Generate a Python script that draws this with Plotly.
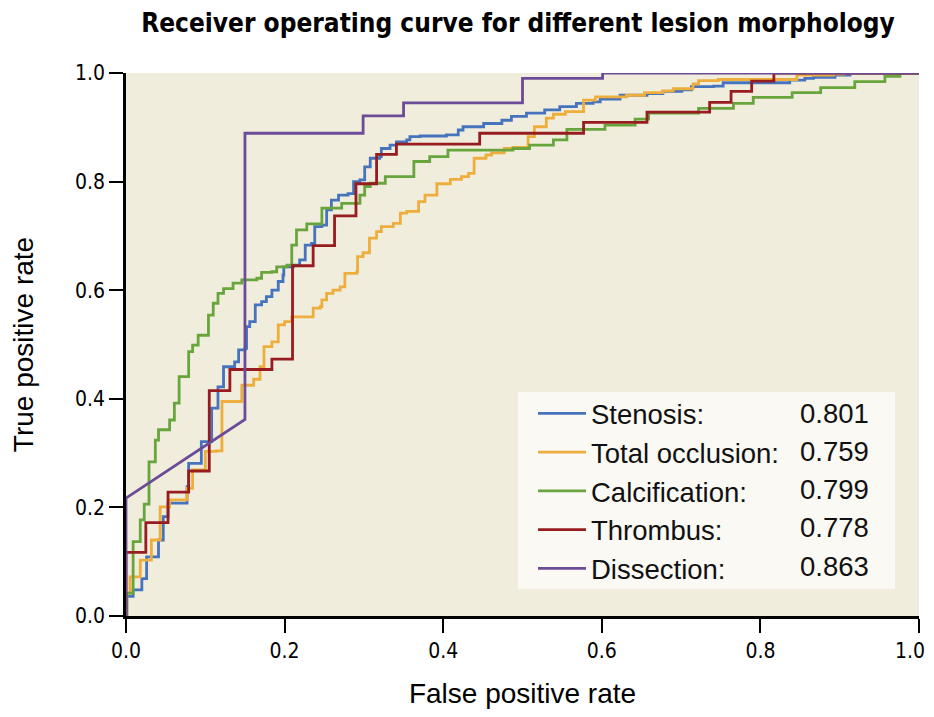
import plotly.graph_objects as go

# ---------------- data ----------------
series_names = ["Stenosis:", "Total occlusion:", "Calcification:", "Thrombus:", "Dissection:"]
auc_values = ["0.801", "0.759", "0.799", "0.778", "0.863"]
colors = ["#4673BD", "#EEAE3D", "#68A53D", "#961C1F", "#6C4B97"]

stenosis_fpr = [0, 0.001, 0.009, 0.020, 0.026, 0.041, 0.047, 0.053, 0.077, 0.079, 0.095, 0.095, 0.104, 0.108, 0.108,
                0.116, 0.116, 0.123, 0.123, 0.137, 0.137, 0.142, 0.142, 0.150, 0.152, 0.156, 0.163, 0.163, 0.171,
                0.177, 0.184, 0.192, 0.198, 0.199, 0.211, 0.219, 0.226, 0.226, 0.234, 0.238, 0.247, 0.253, 0.259,
                0.268, 0.280, 0.287, 0.295, 0.301, 0.308, 0.320, 0.322, 0.333, 0.341, 0.354, 0.358, 0.371, 0.404,
                0.419, 0.425, 0.451, 0.474, 0.486, 0.505, 0.528, 0.547, 0.568, 0.589, 0.598, 0.623, 0.657, 0.677,
                0.701, 0.713, 0.741, 0.753, 0.776, 0.837, 0.856, 0.867, 0.894, 0.913, 1.0]
stenosis_tpr = [0, 0.036, 0.048, 0.069, 0.109, 0.140, 0.183, 0.208, 0.238, 0.281, 0.297, 0.321, 0.321, 0.367, 0.383,
                0.389, 0.422, 0.429, 0.459, 0.459, 0.468, 0.468, 0.490, 0.493, 0.533, 0.542, 0.548, 0.573, 0.579,
                0.588, 0.600, 0.616, 0.628, 0.643, 0.646, 0.656, 0.659, 0.683, 0.686, 0.717, 0.720, 0.748, 0.766,
                0.775, 0.778, 0.800, 0.803, 0.827, 0.843, 0.846, 0.861, 0.867, 0.873, 0.877, 0.883, 0.884, 0.886,
                0.895, 0.901, 0.907, 0.913, 0.920, 0.926, 0.932, 0.938, 0.944, 0.947, 0.952, 0.959, 0.962, 0.966,
                0.969, 0.975, 0.976, 0.982, 0.982, 0.987, 0.990, 0.992, 0.996, 1.0, 1.0]

occlusion_fpr = [0, 0.001, 0.005, 0.018, 0.032, 0.043, 0.055, 0.077, 0.084, 0.084, 0.100, 0.100, 0.114, 0.121, 0.121,
                 0.146, 0.146, 0.161, 0.161, 0.169, 0.169, 0.174, 0.174, 0.184, 0.192, 0.192, 0.200, 0.209, 0.230,
                 0.236, 0.245, 0.247, 0.253, 0.261, 0.270, 0.276, 0.291, 0.292, 0.299, 0.307, 0.316, 0.322, 0.337,
                 0.346, 0.354, 0.369, 0.377, 0.392, 0.409, 0.423, 0.432, 0.439, 0.454, 0.461, 0.477, 0.488, 0.507,
                 0.507, 0.515, 0.530, 0.539, 0.554, 0.577, 0.592, 0.631, 0.654, 0.677, 0.690, 0.715, 0.722, 0.747,
                 0.846, 0.892, 0.905, 1.0]
occlusion_tpr = [0, 0.042, 0.072, 0.103, 0.140, 0.201, 0.214, 0.235, 0.241, 0.269, 0.281, 0.303, 0.304, 0.318, 0.395,
                 0.401, 0.425, 0.425, 0.436, 0.436, 0.459, 0.459, 0.496, 0.505, 0.514, 0.536, 0.542, 0.551, 0.551,
                 0.567, 0.570, 0.582, 0.594, 0.600, 0.606, 0.631, 0.634, 0.662, 0.669, 0.696, 0.708, 0.717, 0.723,
                 0.742, 0.745, 0.763, 0.775, 0.796, 0.804, 0.809, 0.815, 0.843, 0.849, 0.853, 0.861, 0.863, 0.867,
                 0.883, 0.901, 0.917, 0.924, 0.929, 0.950, 0.956, 0.959, 0.964, 0.967, 0.971, 0.980, 0.986, 0.988,
                 0.996, 0.998, 1.0, 1.0]

calcification_fpr = [0, 0.001, 0.009, 0.009, 0.018, 0.023, 0.029, 0.037, 0.041, 0.055, 0.061, 0.067, 0.079, 0.079,
                     0.084, 0.091, 0.104, 0.110, 0.116, 0.123, 0.135, 0.146, 0.165, 0.171, 0.184, 0.190, 0.203, 0.209,
                     0.215, 0.228, 0.247, 0.272, 0.295, 0.301, 0.308, 0.327, 0.363, 0.383, 0.406, 0.488, 0.509, 0.539,
                     0.556, 0.604, 0.642, 0.659, 0.722, 0.766, 0.791, 0.840, 0.876, 0.919, 0.957, 0.976, 1.0]
calcification_tpr = [0, 0.042, 0.097, 0.137, 0.177, 0.206, 0.284, 0.324, 0.343, 0.361, 0.392, 0.441, 0.456, 0.487,
                     0.499, 0.517, 0.554, 0.576, 0.594, 0.603, 0.613, 0.619, 0.622, 0.633, 0.634, 0.643, 0.646, 0.683,
                     0.711, 0.722, 0.751, 0.760, 0.775, 0.791, 0.797, 0.809, 0.837, 0.846, 0.858, 0.861, 0.867, 0.877,
                     0.896, 0.904, 0.915, 0.926, 0.935, 0.944, 0.955, 0.964, 0.973, 0.984, 0.994, 1.0, 1.0]

thrombus_fpr = [0, 0, 0.025, 0.053, 0.079, 0.105, 0.131, 0.184, 0.210, 0.236, 0.263, 0.290, 0.316, 0.341, 0.446,
                0.577, 0.657, 0.736, 0.763, 0.789, 0.817, 1.0]
thrombus_tpr = [0, 0.117, 0.172, 0.228, 0.267, 0.415, 0.454, 0.473, 0.645, 0.682, 0.737, 0.796, 0.850, 0.869, 0.889,
                0.909, 0.928, 0.946, 0.966, 0.985, 1.0, 1.0]

dissection_fpr = [0, 0, 0.150, 0.150, 0.299, 0.299, 0.350, 0.350, 0.500, 0.500, 0.601, 0.601, 1.0]
dissection_tpr = [0, 0.217, 0.362, 0.889, 0.889, 0.921, 0.921, 0.945, 0.945, 0.990, 0.990, 1.0, 1.0]

x_ticks = [0.0, 0.2, 0.4, 0.6, 0.8, 1.0]
y_ticks = [0.0, 0.2, 0.4, 0.6, 0.8, 1.0]

all_fpr = [stenosis_fpr, occlusion_fpr, calcification_fpr, thrombus_fpr, dissection_fpr]
all_tpr = [stenosis_tpr, occlusion_tpr, calcification_tpr, thrombus_tpr, dissection_tpr]
shapes = ["hv", "hv", "hv", "hv", "linear"]

# ---------------- layout geometry ----------------
OFF = 8                       # page body margin
W, H = 934 - OFF, 717 - 2 * OFF
L, T = 126 - OFF, 73 - OFF
R = W - (919 - OFF)
B = H - (616 - OFF)
pw, ph = W - L - R, H - T - B

def px_x(p):                  # picture x pixel -> paper fraction
    return (p - OFF - L) / pw

def px_y(p):                  # picture y pixel -> paper fraction
    return (H - B - (p - OFF)) / ph

NARROW = "Liberation Sans Narrow, DejaVu Sans Condensed, Arial Narrow, sans-serif"
SANS = "Liberation Sans, Arial, sans-serif"

fig = go.Figure()
for name, fx, ty, c, sh in zip(series_names, all_fpr, all_tpr, colors, shapes):
    fig.add_trace(go.Scatter(x=fx, y=ty, mode="lines", name=name,
                             line=dict(color=c, width=2.8, shape=sh)))

# legend background box
fig.add_shape(type="rect", xref="paper", yref="paper",
              x0=px_x(518), x1=px_x(895), y0=px_y(589), y1=px_y(392),
              fillcolor="#FAF9F4", line=dict(width=0), layer="below")

LEG_SIZE = 27.5
row0, row_step = 413, 38.3
for i, v in enumerate(auc_values):
    fig.add_annotation(x=px_x(798), y=px_y(row0 + i * row_step), xref="paper", yref="paper",
                       text=v, showarrow=False, xanchor="left", yanchor="middle",
                       font=dict(family=SANS, size=LEG_SIZE, color="#111"))

# x tick texts; the last one is padded so it stays inside the page's visible edge
x_ticktext = [f"{t:.1f}" for t in x_ticks]
x_ticktext[-1] = x_ticktext[-1] + "\u00a0\u00a0\u00a0"

fig.update_layout(
    width=W, height=H,
    margin=dict(l=L, r=R, t=T, b=B, autoexpand=False),
    paper_bgcolor="white",
    plot_bgcolor="#F1EDDD",
    title=dict(text="<b>Receiver operating curve for different lesion morphology</b>",
               x=(518 - OFF) / W, xref="container", xanchor="center",
               y=1 - (23 - OFF) / H, yref="container", yanchor="middle",
               font=dict(family=NARROW, size=26, color="#000")),
    legend=dict(x=px_x(533), y=px_y(389), xanchor="left", yanchor="top",
                bgcolor="rgba(0,0,0,0)", borderwidth=0, itemwidth=48,
                font=dict(family=SANS, size=LEG_SIZE, color="#111"),
                itemclick=False),
    showlegend=True,
)

fig.update_xaxes(range=[0, 1], tickvals=x_ticks, ticktext=x_ticktext,
                 showgrid=False, zeroline=False, showline=True, linecolor="#000", linewidth=2.5,
                 ticks="outside", ticklen=14, tickwidth=2, tickcolor="#000",
                 ticklabeloverflow="allow", automargin=False,
                 tickfont=dict(family=NARROW, size=21, color="#000"),
                 title=dict(text="False positive rate", standoff=32,
                            font=dict(family=SANS, size=28, color="#000")))
fig.update_yaxes(range=[0, 1], tickvals=y_ticks, ticktext=[f"{t:.1f}" for t in y_ticks],
                 showgrid=False, zeroline=False, showline=True, linecolor="#000", linewidth=2.5,
                 ticks="outside", ticklen=14, tickwidth=2, tickcolor="#000",
                 ticklabeloverflow="allow", automargin=False,
                 tickfont=dict(family=NARROW, size=21, color="#000"),
                 title=dict(text="True positive rate", standoff=42,
                            font=dict(family=SANS, size=28, color="#000")))

fig.write_html("out.html")
